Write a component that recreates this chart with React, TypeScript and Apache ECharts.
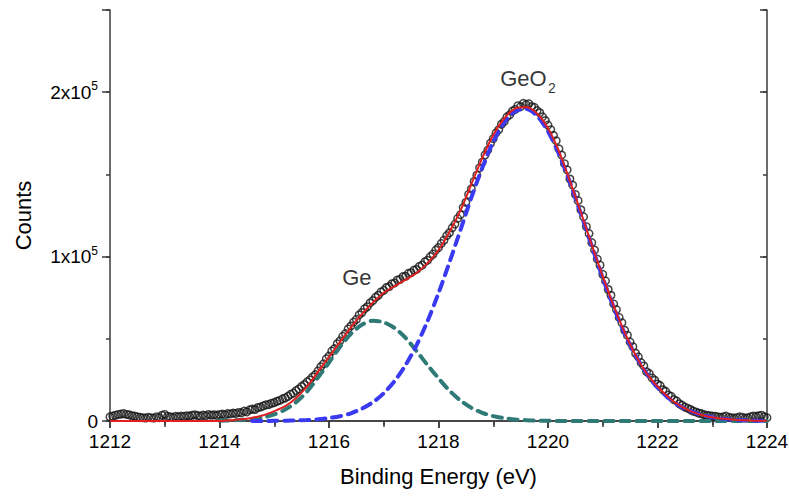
import React, { useEffect, useRef } from "react";
import * as echarts from "echarts";

// Energy grid (eV)
const energyMin = 1212;
const energyMax = 1224;
const dataStep = 0.05;
const fitStep = 0.2;

// Measured XPS counts (units of 1e5), one row per eV, 0.05 eV steps, 1212.00 ... 1224.00
const measuredCounts: number[] = [
  0.025, 0.030, 0.035, 0.040, 0.042, 0.045, 0.040, 0.038, 0.032, 0.030, 0.025, 0.022, 0.020, 0.018, 0.022, 0.020, 0.018, 0.025, 0.020, 0.035,
  0.040, 0.028, 0.025, 0.022, 0.028, 0.025, 0.030, 0.027, 0.032, 0.030, 0.035, 0.038, 0.033, 0.030, 0.036, 0.032, 0.040, 0.035, 0.038, 0.034,
  0.040, 0.042, 0.038, 0.045, 0.043, 0.048, 0.046, 0.052, 0.050, 0.060, 0.055, 0.068, 0.072, 0.070, 0.082, 0.085, 0.092, 0.098, 0.100, 0.108,
  0.112, 0.120, 0.125, 0.135, 0.140, 0.150, 0.162, 0.170, 0.185, 0.195, 0.210, 0.222, 0.238, 0.250, 0.268, 0.282, 0.305, 0.330, 0.348, 0.378,
  0.395, 0.425, 0.440, 0.470, 0.488, 0.515, 0.532, 0.560, 0.578, 0.602, 0.618, 0.645, 0.660, 0.682, 0.695, 0.718, 0.732, 0.752, 0.765, 0.785,
  0.795, 0.812, 0.818, 0.835, 0.840, 0.858, 0.862, 0.878, 0.880, 0.898, 0.902, 0.918, 0.922, 0.940, 0.948, 0.968, 0.978, 1.000, 1.015, 1.040,
  1.055, 1.080, 1.100, 1.128, 1.145, 1.175, 1.198, 1.232, 1.255, 1.298, 1.330, 1.378, 1.412, 1.458, 1.495, 1.540, 1.575, 1.618, 1.648, 1.690,
  1.718, 1.752, 1.772, 1.805, 1.822, 1.850, 1.862, 1.885, 1.895, 1.918, 1.912, 1.932, 1.925, 1.930, 1.912, 1.908, 1.888, 1.875, 1.850, 1.828,
  1.800, 1.772, 1.738, 1.705, 1.655, 1.618, 1.565, 1.528, 1.472, 1.435, 1.378, 1.340, 1.285, 1.242, 1.182, 1.140, 1.085, 1.040, 0.985, 0.948,
  0.892, 0.852, 0.800, 0.765, 0.712, 0.678, 0.630, 0.598, 0.552, 0.522, 0.480, 0.452, 0.412, 0.390, 0.355, 0.335, 0.300, 0.288, 0.262, 0.248,
  0.225, 0.215, 0.190, 0.180, 0.158, 0.150, 0.130, 0.122, 0.105, 0.095, 0.085, 0.078, 0.070, 0.060, 0.055, 0.048, 0.045, 0.038, 0.035, 0.032,
  0.030, 0.028, 0.025, 0.022, 0.025, 0.030, 0.022, 0.020, 0.018, 0.020, 0.025, 0.022, 0.018, 0.020, 0.025, 0.030, 0.028, 0.032, 0.035, 0.025,
  0.020,
];

// Fit curves (units of 1e5), 0.2 eV steps, 1212.0 ... 1224.0, one row per eV
const fitEnvelope: (number | null)[] = [
  0, 0, 0, 0, 0,
  0, 0, 0, 0, 0,
  0, 0.005, 0.01, 0.02, 0.035,
  0.06, 0.09, 0.14, 0.21, 0.30,
  0.39, 0.48, 0.57, 0.65, 0.72,
  0.78, 0.82, 0.86, 0.90, 0.96,
  1.04, 1.15, 1.28, 1.44, 1.60,
  1.74, 1.84, 1.90, 1.91, 1.87,
  1.78, 1.64, 1.46, 1.27, 1.07,
  0.88, 0.70, 0.54, 0.40, 0.29,
  0.21, 0.145, 0.095, 0.06, 0.037,
  0.023, 0.013, 0.008, 0.004, 0.002,
  0.001,
];

const geo2Component: (number | null)[] = [
  null, null, null, null, null,
  null, null, null, null, null,
  null, null, null, 0.0, 0.0,
  0.001, 0.002, 0.004, 0.006, 0.010,
  0.018, 0.029, 0.047, 0.075, 0.114,
  0.169, 0.244, 0.341, 0.462, 0.608,
  0.778, 0.965, 1.161, 1.359, 1.541,
  1.698, 1.815, 1.884, 1.898, 1.856,
  1.762, 1.624, 1.452, 1.261, 1.063,
  0.870, 0.691, 0.532, 0.398, 0.289,
  0.204, 0.140, 0.093, 0.060, 0.037,
  0.023, 0.013, 0.008, 0.004, 0.002,
  0.001,
];

const geComponent: (number | null)[] = [
  null, null, null, null, null,
  null, null, null, null, null,
  0.002, 0.004, 0.007, 0.012, 0.022,
  0.04, 0.07, 0.115, 0.18, 0.265,
  0.355, 0.45, 0.53, 0.585, 0.61,
  0.60, 0.565, 0.505, 0.425, 0.34,
  0.26, 0.185, 0.125, 0.08, 0.05,
  0.03, 0.017, 0.009, 0.005, 0.002,
  0.001, 0, 0, 0, 0,
  0, 0, 0, 0, 0,
  0, 0, 0, 0, 0,
  0, 0, 0, 0, 0,
  0,
];

// Peak annotations: [energy, counts(1e5)]
const geLabelPos = [1216.51, 0.875];
const geo2LabelPos = [1219.55, 2.085];
const geo2SubPos = [1220.07, 2.024];

const FONT = "'Liberation Sans', Arial, Helvetica, sans-serif";
const AXIS_COLOR = "#3a3a3a";
const TEXT_COLOR = "#000";

function toPairs(values: (number | null)[], step: number) {
  const out: number[][] = [];
  values.forEach((v, i) => {
    if (v !== null) out.push([+(energyMin + i * step).toFixed(2), v]);
  });
  return out;
}

export default function App() {
  const ref = useRef<HTMLDivElement>(null);

  useEffect(() => {
    if (!ref.current) return;
    const chart = echarts.init(ref.current, null, { renderer: "svg" });

    const axisLine = { show: true, lineStyle: { color: AXIS_COLOR, width: 1.5 } };

    const option: any = {
      animation: false,
      backgroundColor: "#fff",
      grid: { left: 110, right: 22, top: 10, bottom: 75, containLabel: false, outerBoundsMode: "none" },
      xAxis: [
        {
          type: "value",
          position: "bottom",
          min: energyMin,
          max: energyMax,
          interval: 2,
          name: "Binding Energy (eV)",
          nameLocation: "middle",
          nameGap: 44,
          nameTextStyle: { fontFamily: FONT, fontSize: 22, color: TEXT_COLOR },
          axisLine,
          axisTick: { show: true, length: 7, lineStyle: { color: AXIS_COLOR, width: 1.5 } },
          minorTick: { show: true, splitNumber: 2, length: 6, lineStyle: { color: AXIS_COLOR, width: 1.5 } },
          axisLabel: {
            fontFamily: FONT,
            fontSize: 19,
            color: TEXT_COLOR,
            margin: 11,
            formatter: (v: number) => String(v),
          },
          splitLine: { show: false },
        },
        {
          type: "value",
          position: "top",
          min: energyMin,
          max: energyMax,
          interval: 2,
          axisLine,
          axisTick: { show: true, inside: true, length: 7, lineStyle: { color: AXIS_COLOR, width: 1.5 } },
          minorTick: { show: true, splitNumber: 2, length: 4, lineStyle: { color: AXIS_COLOR, width: 1.5 } },
          axisLabel: { show: false },
          splitLine: { show: false },
        },
      ],
      yAxis: [
        {
          type: "value",
          position: "left",
          min: 0,
          max: 2.5,
          interval: 1,
          name: "Counts",
          nameLocation: "middle",
          nameGap: 76,
          nameTextStyle: { fontFamily: FONT, fontSize: 22, color: TEXT_COLOR },
          axisLine,
          axisTick: { show: true, length: 8, lineStyle: { color: AXIS_COLOR, width: 1.5 } },
          axisLabel: {
            margin: 12,
            formatter: (v: number) =>
              v === 0 ? "{m|0}" : Number.isInteger(v) ? `{m|${v}x10}{s|5}` : "",
            rich: {
              m: { fontFamily: FONT, fontSize: 19, lineHeight: 24, verticalAlign: "middle", color: TEXT_COLOR },
              s: { fontFamily: FONT, fontSize: 12, lineHeight: 12, verticalAlign: "top", color: TEXT_COLOR },
            },
          },
          splitLine: { show: false },
        },
        {
          type: "value",
          position: "left",
          min: 0,
          max: 2.5,
          interval: 0.5,
          axisLine: { show: false },
          axisTick: { show: true, length: 4, lineStyle: { color: AXIS_COLOR, width: 1.5 } },
          axisLabel: { show: false },
          splitLine: { show: false },
        },
        {
          type: "value",
          position: "right",
          min: 0,
          max: 2.5,
          interval: 1,
          axisLine,
          axisTick: { show: true, inside: true, length: 7, lineStyle: { color: AXIS_COLOR, width: 1.5 } },
          axisLabel: { show: false },
          splitLine: { show: false },
        },
        {
          type: "value",
          position: "right",
          min: 0,
          max: 2.5,
          interval: 0.5,
          axisLine: { show: false },
          axisTick: { show: true, inside: true, length: 4, lineStyle: { color: AXIS_COLOR, width: 1.5 } },
          axisLabel: { show: false },
          splitLine: { show: false },
        },
      ],
      series: [
        {
          name: "Measured",
          type: "scatter",
          xAxisIndex: 0,
          yAxisIndex: 0,
          symbol: "circle",
          symbolSize: 7.5,
          itemStyle: { color: "rgba(255,255,255,0)", borderColor: "#151515", borderWidth: 1.5 },
          data: toPairs(measuredCounts, dataStep),
          silent: true,
        },
        {
          name: "Ge",
          type: "line",
          xAxisIndex: 0,
          yAxisIndex: 0,
          showSymbol: false,
          smooth: 0.3,
          lineStyle: { color: "#2f7a76", width: 4, type: [9, 7], cap: "round" },
          data: toPairs(geComponent, fitStep),
          silent: true,
        },
        {
          name: "GeO2",
          type: "line",
          xAxisIndex: 0,
          yAxisIndex: 0,
          showSymbol: false,
          smooth: 0.3,
          lineStyle: { color: "#3a3af2", width: 4, type: [9, 7], cap: "round" },
          data: toPairs(geo2Component, fitStep),
          silent: true,
        },
        {
          name: "Fit",
          type: "line",
          xAxisIndex: 0,
          yAxisIndex: 0,
          showSymbol: false,
          smooth: 0.3,
          lineStyle: { color: "#e02020", width: 2 },
          data: toPairs(fitEnvelope, fitStep),
          silent: true,
        },
        {
          name: "Labels",
          type: "scatter",
          xAxisIndex: 0,
          yAxisIndex: 0,
          symbolSize: 1,
          itemStyle: { color: "rgba(0,0,0,0)" },
          silent: true,
          label: {
            show: true,
            position: "inside",
            fontFamily: FONT,
            color: TEXT_COLOR,
          },
          data: [
            { value: geLabelPos, label: { formatter: "Ge", fontSize: 22 } },
            { value: geo2LabelPos, label: { formatter: "GeO", fontSize: 22 } },
            { value: geo2SubPos, label: { formatter: "2", fontSize: 14 } },
          ],
        },
      ],
    };

    chart.setOption(option);
    return () => chart.dispose();
  }, []);

  return (
    <div
      ref={ref}
      style={{ position: "fixed", left: 0, top: 0, width: 789, height: 496, background: "#fff" }}
    />
  );
}
